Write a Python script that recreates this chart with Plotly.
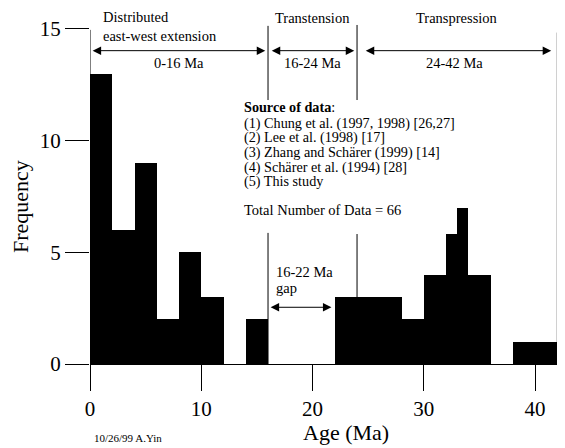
import plotly.graph_objects as go

# ---- data ----
bin_start = [0, 2, 4, 6, 8, 10, 14, 22, 24, 26, 28, 30, 32, 33, 34, 38, 40]
bin_end = [2, 4, 6, 8, 10, 12, 16, 24, 26, 28, 30, 32, 33, 34, 36, 40, 42]
counts = [13, 6, 9, 2, 5, 3, 2, 3, 3, 3, 2, 4, 5.8, 7, 4, 1, 1]

period_bounds = [0, 16, 24, 42]
period_names = ["Distributed<br>east-west extension", "Transtension", "Transpression"]
period_labels = ["0-16 Ma", "16-24 Ma", "24-42 Ma"]

source_lines = [
    "<b>Source of data</b>:",
    "(1) Chung et al. (1997, 1998) [26,27]",
    "(2) Lee et al. (1998) [17]",
    "(3) Zhang and Schärer (1999) [14]",
    "(4) Schärer et al. (1994) [28]",
    "(5) This study",
]
total_text = "Total Number of Data = 66"

x_ticks = [0, 10, 20, 30, 40]
y_ticks = [0, 5, 10, 15]

FONT = "Liberation Serif, Times New Roman, serif"
OFF = 8  # page body margin
W, H = 565 - OFF, 448 - OFF
ML, MR, MT, MB = 82, 1, 0, 84
PW, PH = W - ML - MR, H - MT - MB

def px_x(px):  # page px -> paper
    return (px - OFF - ML) / PW

def px_y(py):
    return (H - MB - (py - OFF)) / PH

centers = [(a + b) / 2 for a, b in zip(bin_start, bin_end)]
widths = [b - a for a, b in zip(bin_start, bin_end)]

fig = go.Figure()
fig.add_trace(go.Bar(x=centers, y=counts, width=widths,
                     marker=dict(color="black", line=dict(width=0)),
                     hoverinfo="skip"))

shapes = []
def vline(x, y0, y1):
    shapes.append(dict(type="line", xref="x", yref="y", x0=x, x1=x, y0=y0, y1=y1,
                       line=dict(color="black", width=1), layer="below"))

vline(period_bounds[0], 14.96, 0)
vline(period_bounds[1], 15.14, 11.82)
vline(period_bounds[1], 5.87, 0)
vline(period_bounds[2], 15.18, 11.82)
vline(period_bounds[2], 5.82, 0)
vline(period_bounds[3], 14.84, 0)

ann = []
def txt(x, y, s, size=14.5, xanchor="left", xref="x", yref="y"):
    ann.append(dict(x=x, y=y, xref=xref, yref=yref, text=s, showarrow=False,
                    xanchor=xanchor, yanchor="middle",
                    font=dict(family=FONT, size=size, color="black")))

def arrow(x0, x1, y):
    ann.append(dict(x=x1, y=y, ax=x0, ay=y, xref="x", yref="y", axref="x", ayref="y",
                    text="", showarrow=True, arrowhead=2, arrowsize=1.7, arrowwidth=1,
                    arrowside="end+start", arrowcolor="black", standoff=0, startstandoff=0))

# period names
ann.append(dict(x=1.0, y=15.1, xref="x", yref="y", text=period_names[0], showarrow=False,
                xanchor="left", yanchor="middle", align="left",
                font=dict(family=FONT, size=14.5, color="black")))
txt(20, 15.5, period_names[1], xanchor="center")
txt(33, 15.5, period_names[2], xanchor="center")
# period ranges
txt(8, 13.48, period_labels[0], xanchor="center")
txt(20, 13.48, period_labels[1], xanchor="center")
txt(32.8, 13.48, period_labels[2], xanchor="center")

arrow(0.1, 15.75, 14.03)
arrow(16.2, 23.75, 14.03)
arrow(24.65, 41.45, 14.03)

# source list
src_y = [11.51, 10.79, 10.12, 9.46, 8.79, 8.16]
for s, y in zip(source_lines, src_y):
    txt(13.7, y, s, size=14.2)
txt(13.7, 6.9, total_text, size=14.5)

# gap
txt(16.5, 4.13, "16-22 Ma")
txt(16.5, 3.4, "gap")
arrow(16.1, 21.7, 2.54)

# footer
ann.append(dict(x=px_x(92), y=px_y(438), xref="paper", yref="paper", text="10/26/99 A.Yin",
                showarrow=False, xanchor="left", yanchor="middle",
                font=dict(family=FONT, size=11, color="black")))
# x-axis title
ann.append(dict(x=px_x(346), y=px_y(447), xref="paper", yref="paper", text="Age (Ma)",
                showarrow=False, xanchor="center", yanchor="bottom",
                font=dict(family=FONT, size=22, color="black")))
# y-axis title
ann.append(dict(x=px_x(20), y=px_y(207), xref="paper", yref="paper", text="Frequency",
                showarrow=False, xanchor="center", yanchor="middle", textangle=-90,
                font=dict(family=FONT, size=22, color="black")))

fig.update_layout(
    width=W, height=H,
    margin=dict(l=ML, r=MR, t=MT, b=MB, autoexpand=False),
    paper_bgcolor="white", plot_bgcolor="white",
    showlegend=False, bargap=0,
    font=dict(family=FONT, color="black"),
    shapes=shapes, annotations=ann,
    xaxis=dict(range=[0, 42.6], tickvals=x_ticks, ticks="outside", ticklen=26,
               tickwidth=1, tickcolor="black", showline=True, linecolor="black",
               linewidth=1, showgrid=False, zeroline=False, automargin=False,
               tickfont=dict(family=FONT, size=21, color="black")),
    yaxis=dict(range=[0, 15.94], tickvals=y_ticks, ticks="outside", ticklen=24,
               tickwidth=1, tickcolor="black", showline=False, showgrid=False,
               zeroline=False, automargin=False,
               tickfont=dict(family=FONT, size=21, color="black")),
)

fig.write_html("out.html")
